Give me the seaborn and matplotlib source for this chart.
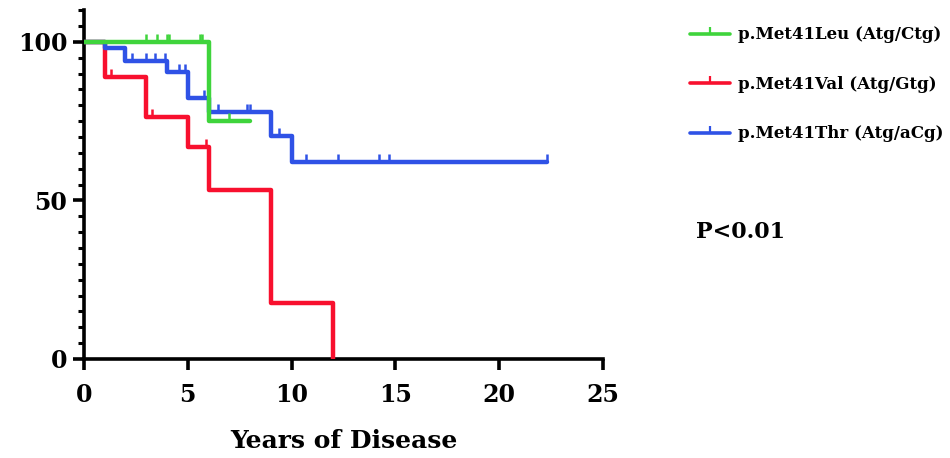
import numpy as np
import pandas as pd
import matplotlib
matplotlib.use("Agg")
import matplotlib.pyplot as plt
import seaborn as sns
from matplotlib.lines import Line2D
from matplotlib.ticker import MultipleLocator

# Kaplan-Meier style curves
labels = ["p.Met41Leu (Atg/Ctg)", "p.Met41Val (Atg/Gtg)", "p.Met41Thr (Atg/aCg)"]
colors = ["#3fd43c", "#f8102e", "#2f52e6"]
layers = [5, 3, 4]  # green sits on top where curves overlap

leu_years = [0, 6, 8]
leu_surv = [100, 75, 75]
leu_censor = [3.0, 3.5, 4.0, 4.1, 5.6, 5.7, 7.0]

val_years = [0, 1, 3, 5, 6, 9, 12]
val_surv = [100, 88.9, 76.2, 66.7, 53.3, 17.8, 0]
val_censor = [1.3, 3.3, 5.9]

thr_years = [0, 1, 2, 4, 5, 6, 9, 10, 22.3]
thr_surv = [100, 98.0, 93.8, 90.6, 82.3, 77.8, 70.3, 62.0, 62.0]
thr_censor = [2.3, 3.0, 3.4, 3.9, 4.6, 4.85, 5.8, 6.45, 7.85, 8.0,
              9.4, 10.7, 12.25, 14.2, 14.7, 22.3]

groups = [
    (leu_years, leu_surv, leu_censor),
    (val_years, val_surv, val_censor),
    (thr_years, thr_surv, thr_censor),
]

sns.set_theme(style="ticks")
plt.rcParams['font.family'] = ['DejaVu Serif']
plt.rcParams['font.weight'] = 'bold'
plt.rcParams['text.color'] = 'black'
plt.rcParams['xtick.color'] = 'black'
plt.rcParams['ytick.color'] = 'black'
plt.rcParams['axes.labelcolor'] = 'black'

fig = plt.figure(figsize=(9.5, 4.58), dpi=100)
ax = fig.add_axes([0.0884, 0.2162, 0.5463, 0.7618])

for (years, surv, censor), color, z in zip(groups, colors, layers):
    sns.lineplot(x=years, y=surv, ax=ax, color=color, linewidth=3.2,
                 drawstyle='steps-post', estimator=None, sort=False, zorder=z)
    # censor marks sit on the curve level at that time
    idx = np.searchsorted(years, censor, side='right') - 1
    cy = np.asarray(surv)[idx]
    sns.lineplot(x=censor, y=cy, ax=ax, linestyle='none', marker=2,
                 markersize=5.5, markeredgewidth=1.8, markeredgecolor=color,
                 color=color, estimator=None, sort=False, zorder=z)

ax.set_xlim(0, 25)
ax.set_ylim(0, 110)
ax.set_xticks([0, 5, 10, 15, 20, 25])
ax.set_yticks([0, 50, 100])
ax.yaxis.set_minor_locator(MultipleLocator(5))
ax.tick_params(axis='both', which='major', direction='out', length=8,
               width=2.6, labelsize=17, color='black', labelcolor='black')
ax.tick_params(axis='x', which='major', pad=9)
ax.tick_params(axis='y', which='major', pad=4)
ax.tick_params(axis='y', which='minor', direction='out', length=4,
               width=2.2, color='black')
for lab in ax.get_xticklabels() + ax.get_yticklabels():
    lab.set_fontweight('bold')

sns.despine(ax=ax)
for side in ['left', 'bottom']:
    ax.spines[side].set_linewidth(2.6)
    ax.spines[side].set_color('black')

ax.set_xlabel("Years of Disease", fontsize=18, fontweight='bold',
              labelpad=16, color='black')
ax.set_ylabel("")

handles = [Line2D([0], [0], color=c, linewidth=2.6, marker=2, markersize=5,
                  markeredgewidth=1.6) for c in colors]
leg = fig.legend(handles, labels, loc='upper left',
                 bbox_to_anchor=(0.71, 0.975), frameon=False,
                 prop={'family': 'DejaVu Serif', 'weight': 'bold', 'size': 12},
                 handlelength=2.4, handletextpad=0.5, labelspacing=1.95)
for t in leg.get_texts():
    t.set_color('black')

fig.text(0.733, 0.493, "P<0.01", fontsize=16, fontweight='bold',
         va='center', ha='left', color='black')

fig.savefig("out.png", dpi=100)
